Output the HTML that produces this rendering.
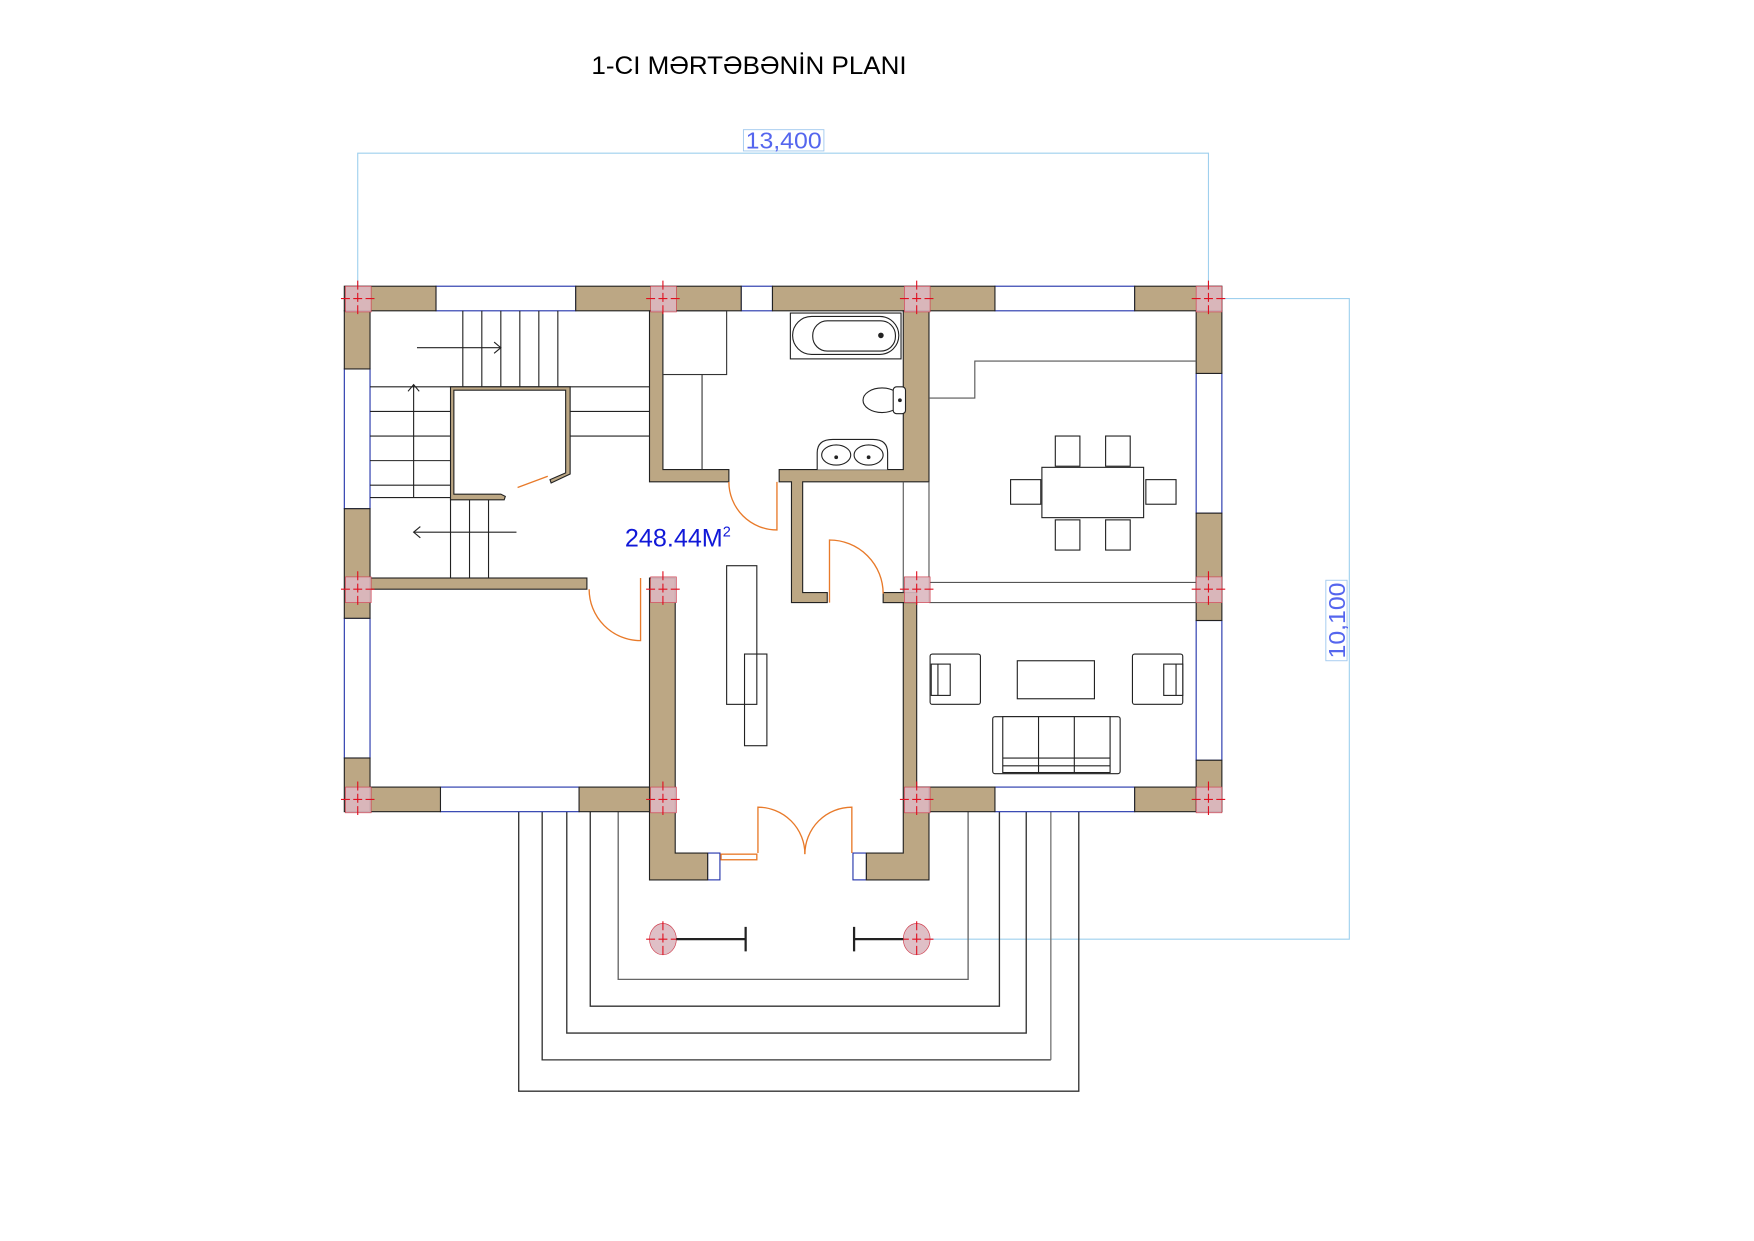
<!DOCTYPE html>
<html><head><meta charset="utf-8"><style>
html,body{margin:0;padding:0;background:#fff;}
svg{display:block;}
text{font-family:"Liberation Sans",sans-serif;}
</style></head><body>
<svg width="1754" height="1241" viewBox="0 0 1569 1110" preserveAspectRatio="none" xmlns="http://www.w3.org/2000/svg">
<rect width="1569" height="1110" fill="#fff"/>
<text x="529" y="66" font-size="22.5" fill="#000" textLength="282" lengthAdjust="spacingAndGlyphs">1-CI MƏRTƏBƏNİN PLANI</text>

<!-- dimensions -->
<g stroke="#9fd0ee" stroke-width="1" fill="none">
<polyline points="320,256 320,137 1081,137 1081,256"/>
<polyline points="1093,267 1207,267 1207,840 832,840"/>
</g>
<rect x="665" y="116" width="72" height="19" fill="#fff" stroke="#9fc8ee" stroke-width="0.8"/>
<text x="701" y="133" font-size="21" fill="#5566ee" text-anchor="middle" textLength="68" lengthAdjust="spacingAndGlyphs">13,400</text>
<g transform="translate(1196,555) rotate(-90)">
<rect x="-36" y="-10" width="72" height="19" fill="#fff" stroke="#9fc8ee" stroke-width="0.8"/>
<text x="0" y="7" font-size="21" fill="#5566ee" text-anchor="middle" textLength="68" lengthAdjust="spacingAndGlyphs">10,100</text>
</g>

<!-- porch lines -->
<g fill="none" stroke="#333" stroke-width="1.2">
<polyline points="464,726 464,976 965,976 965,726"/>
<polyline points="485,726 485,948 940,948"/>
<polyline points="940,948 940,726" stroke="#777"/>
<polyline points="507,726 507,924 918,924 918,726"/>
<polyline points="528,726 528,900 894,900 894,726"/>
<polyline points="553,726 553,876 866,876 866,726" stroke="#666"/>
</g>

<!-- windows -->
<g fill="#fff" stroke="#2233aa" stroke-width="1">
<rect x="390" y="256" width="125" height="22"/>
<rect x="663" y="256" width="28" height="22"/>
<rect x="890" y="256" width="125" height="22"/>
<rect x="308" y="330" width="23" height="125"/>
<rect x="308" y="553" width="23" height="125"/>
<rect x="1070" y="334" width="23" height="125"/>
<rect x="1070" y="555" width="23" height="125"/>
<rect x="394" y="704" width="124" height="22"/>
<rect x="890" y="704" width="125" height="22"/>
<rect x="633" y="763" width="11" height="24"/>
<rect x="763" y="763" width="12" height="24"/>
</g>

<!-- walls -->
<g fill="#bca784" stroke="#222" stroke-width="1">
<rect x="308" y="256" width="82" height="22"/>
<rect x="515" y="256" width="148" height="22"/>
<rect x="691" y="256" width="199" height="22"/>
<rect x="1015" y="256" width="78" height="22"/>
<rect x="308" y="278" width="23" height="52"/>
<rect x="308" y="455" width="23" height="98"/>
<rect x="308" y="678" width="23" height="48"/>
<rect x="1070" y="278" width="23" height="56"/>
<rect x="1070" y="459" width="23" height="96"/>
<rect x="1070" y="680" width="23" height="46"/>
<rect x="331" y="704" width="63" height="22"/>
<rect x="518" y="704" width="86" height="22"/>
<rect x="820" y="704" width="70" height="22"/>
<rect x="1015" y="704" width="55" height="22"/>
<path d="M581,278 H593 V420 H652 V431 H581 Z"/>
<rect x="331" y="517" width="194" height="10"/>
<path d="M581,517 H604 V763 H633 V787 H581 Z"/>
<path d="M808,278 H831 V431 H718 V530 H740 V539 H708 V431 H697 V420 H808 Z"/>
<rect x="790" y="530" width="30" height="9"/>
<path d="M808,539 H820 V704 H831 V787 H775 V763 H808 Z"/>
</g>
<g stroke="#555" stroke-width="1" fill="none">
<line x1="808" y1="431" x2="808" y2="530"/>
<line x1="831" y1="431" x2="831" y2="539"/>
<line x1="831" y1="521" x2="1070" y2="521"/>
<line x1="831" y1="539" x2="1070" y2="539"/>
<polyline points="831,356 872,356 872,323 1070,323"/>
</g>

<!-- stairs -->
<g stroke="#222" stroke-width="1" fill="none">
<line x1="414" y1="278" x2="414" y2="346"/><line x1="431" y1="278" x2="431" y2="346"/>
<line x1="448" y1="278" x2="448" y2="346"/><line x1="465" y1="278" x2="465" y2="346"/>
<line x1="482" y1="278" x2="482" y2="346"/><line x1="499" y1="278" x2="499" y2="346"/>
<line x1="331" y1="346" x2="581" y2="346"/>
<line x1="510" y1="368" x2="581" y2="368"/><line x1="510" y1="390" x2="581" y2="390"/>
<line x1="331" y1="368" x2="403" y2="368"/><line x1="331" y1="390" x2="403" y2="390"/>
<line x1="331" y1="412" x2="403" y2="412"/><line x1="331" y1="434" x2="403" y2="434"/>
<line x1="331" y1="445" x2="403" y2="445"/>
<line x1="403" y1="445" x2="403" y2="517"/><line x1="420" y1="445" x2="420" y2="517"/>
<line x1="437" y1="445" x2="437" y2="517"/>
<line x1="373" y1="311" x2="448" y2="311"/><polyline points="442,306 448,311 442,316"/>
<line x1="370" y1="445" x2="370" y2="344"/><polyline points="365,350 370,344 375,350"/>
<line x1="370" y1="476" x2="462" y2="476"/><polyline points="376,471 370,476 376,481"/>
</g>
<path d="M403,346 H510 V424 L493,432 L492,429 L506,423 V349 H406 V442 H448 L452,444 L451,447 L403,447 Z" fill="#bca784" stroke="#222" stroke-width="1"/>
<line x1="463" y1="436" x2="490" y2="426" stroke="#e87a2a" stroke-width="1.2"/>

<g stroke="#333" stroke-width="1" fill="none">
<rect x="593" y="278" width="57" height="57"/>
<line x1="628" y1="335" x2="628" y2="420"/>
</g>
<g stroke="#222" stroke-width="1" fill="#fff">
<rect x="707" y="280" width="99" height="41"/>
<rect x="709" y="283" width="95" height="34" rx="17"/>
<rect x="727" y="287" width="74" height="27" rx="13"/>
<circle cx="788" cy="300" r="2" fill="#222"/>
<ellipse cx="789" cy="358" rx="17" ry="11"/>
<rect x="799" y="346" width="11" height="24" rx="3"/>
<circle cx="805" cy="358" r="1.2" fill="#222"/>
<path d="M731,420 V405 Q731,393 745,393 H781 Q794,393 794,405 V420"/>
<ellipse cx="748" cy="407" rx="13" ry="9"/><ellipse cx="777" cy="407" rx="13" ry="9"/>
<circle cx="748" cy="409" r="1.2" fill="#222"/><circle cx="777" cy="409" r="1.2" fill="#222"/>
</g>

<g stroke="#222" stroke-width="1" fill="none">
<rect x="650" y="506" width="27" height="124"/>
<rect x="666" y="585" width="20" height="82"/>
</g>

<g stroke="#222" stroke-width="1" fill="#fff">
<rect x="944" y="390" width="22" height="27"/><rect x="989" y="390" width="22" height="27"/>
<rect x="944" y="465" width="22" height="27"/><rect x="989" y="465" width="22" height="27"/>
<rect x="904" y="429" width="27" height="22"/><rect x="1025" y="429" width="27" height="22"/>
<rect x="932" y="418" width="91" height="45"/>
</g>
<g stroke="#222" stroke-width="1" fill="#fff">
<rect x="832" y="585" width="45" height="45" rx="2"/>
<rect x="833" y="594" width="17" height="28"/><line x1="839" y1="594" x2="839" y2="622"/>
<rect x="1013" y="585" width="45" height="45" rx="2"/>
<rect x="1041" y="594" width="17" height="28"/><line x1="1052" y1="594" x2="1052" y2="622"/>
<rect x="910" y="591" width="69" height="34"/>
<rect x="888" y="641" width="114" height="51" rx="2"/>
<rect x="897" y="641" width="96" height="50"/>
<line x1="929" y1="641" x2="929" y2="691"/><line x1="961" y1="641" x2="961" y2="691"/>
<line x1="897" y1="678" x2="993" y2="678"/><line x1="897" y1="685" x2="993" y2="685"/>
</g>

<g stroke="#e87a2a" stroke-width="1.2" fill="none">
<path d="M652,431 A43,43 0 0 0 695,474 V431"/>
<path d="M527,527 A46,46 0 0 0 573,573 V517"/>
<path d="M742,539 V483 A48,48 0 0 1 790,531"/>
<path d="M678,763 V722 A42,42 0 0 1 720,764"/>
<path d="M762,763 V722 A42,42 0 0 0 720,764"/>
<rect x="645" y="764" width="32" height="5"/>
</g>

<g fill="#dcb8c0" fill-opacity="0.9" stroke="#d04050" stroke-width="0.6">
<rect x="309" y="256" width="23" height="23"/><rect x="582" y="256" width="23" height="23"/>
<rect x="809" y="256" width="23" height="23"/><rect x="1070" y="256" width="23" height="23"/>
<rect x="309" y="516" width="23" height="23"/><rect x="582" y="516" width="23" height="23"/>
<rect x="809" y="516" width="23" height="23"/><rect x="1070" y="516" width="23" height="23"/>
<rect x="309" y="704" width="23" height="23"/><rect x="582" y="704" width="23" height="23"/>
<rect x="809" y="704" width="23" height="23"/><rect x="1070" y="704" width="23" height="23"/>
<ellipse cx="593" cy="840" rx="12" ry="14"/><ellipse cx="820" cy="840" rx="12" ry="14"/>
</g>
<g stroke="#e01020" stroke-width="1" stroke-dasharray="8,3">
<path d="M305,267h31M320,251v32M578,267h31M593,251v32M805,267h31M820,251v32M1066,267h31M1081,251v32"/>
<path d="M305,527h31M320,511v32M578,527h31M593,511v32M805,527h31M820,511v32M1066,527h31M1081,511v32"/>
<path d="M305,715h31M320,699v32M578,715h31M593,699v32M805,715h31M820,699v32M1066,715h31M1081,699v32"/>
<path d="M578,840h31M593,824v32M805,840h31M820,824v32"/>
</g>
<g stroke="#222" stroke-width="2" fill="none">
<path d="M605,840H667M667,829v22M764,840H808M764,829v22"/>
</g>

<text x="559" y="489" font-size="22.5" fill="#1018d8">248.44M<tspan font-size="13" dy="-9">2</tspan></text>
</svg>
</body></html>
